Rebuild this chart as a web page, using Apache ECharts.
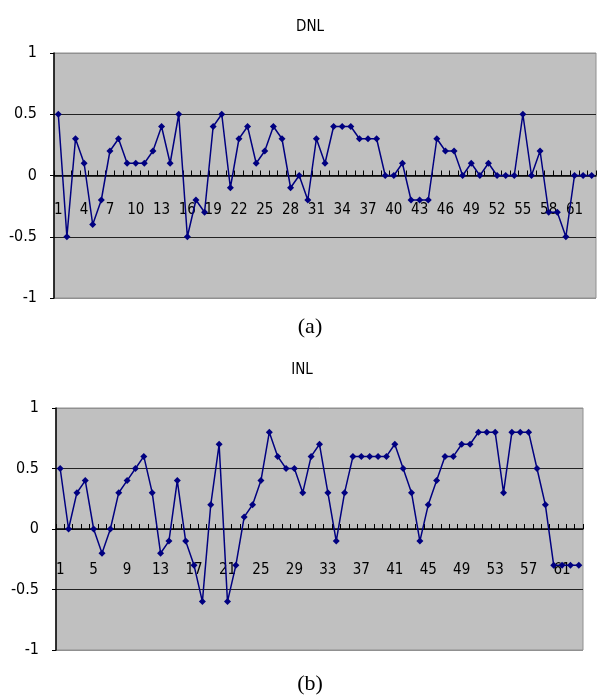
<!DOCTYPE html>
<html>
<head>
<meta charset="utf-8">
<script src="https://cdn.jsdelivr.net/npm/echarts@6/dist/echarts.min.js"></script>
<style>
html, body { margin: 0; padding: 0; background: #fff; }
#main { width: 597px; height: 698px; }
</style>
</head>
<body>
<div id="main"></div>
<script>
var categories = ['1','2','3','4','5','6','7','8','9','10','11','12','13','14','15','16','17','18','19','20',
    '21','22','23','24','25','26','27','28','29','30','31','32','33','34','35','36','37','38','39','40',
    '41','42','43','44','45','46','47','48','49','50','51','52','53','54','55','56','57','58','59','60',
    '61','62','63'];

// DNL, codes 1..63
var dnl = [0.5,-0.5,0.3,0.1,-0.4,-0.2,0.2,0.3,0.1,0.1,
    0.1,0.2,0.4,0.1,0.5,-0.5,-0.2,-0.3,0.4,0.5,
    -0.1,0.3,0.4,0.1,0.2,0.4,0.3,-0.1,0,-0.2,
    0.3,0.1,0.4,0.4,0.4,0.3,0.3,0.3,0,0,
    0.1,-0.2,-0.2,-0.2,0.3,0.2,0.2,0,0.1,0,
    0.1,0,0,0,0.5,0,0.2,-0.3,-0.3,-0.5,
    0,0,0];

// INL, codes 1..63
var inl = [0.5,0,0.3,0.4,0,-0.2,0,0.3,0.4,0.5,
    0.6,0.3,-0.2,-0.1,0.4,-0.1,-0.3,-0.6,0.2,0.7,
    -0.6,-0.3,0.1,0.2,0.4,0.8,0.6,0.5,0.5,0.3,
    0.6,0.7,0.3,-0.1,0.3,0.6,0.6,0.6,0.6,0.6,
    0.7,0.5,0.3,-0.1,0.2,0.4,0.6,0.6,0.7,0.7,
    0.8,0.8,0.8,0.3,0.8,0.8,0.8,0.5,0.2,-0.3,
    -0.3,-0.3,-0.3];

var yTicks = { min: -1, max: 1, interval: 0.5 };

var chart = echarts.init(document.getElementById('main'));

var labelFont = "'DejaVu Sans Condensed', 'Liberation Sans', sans-serif";

// labels sit just under the zero line (Excel style), so pull them up from the grid bottom
function xAxisFor(grid, every, margin) {
    return {
        type: 'category',
        gridIndex: grid,
        data: categories,
        boundaryGap: true,
        axisLine: { onZero: true, lineStyle: { color: '#000', width: 1.5 } },
        axisTick: { show: true, inside: true, length: 5, interval: 0, lineStyle: { color: '#000' } },
        axisLabel: { interval: every, margin: margin, color: '#000', fontSize: 15, fontFamily: labelFont },
        splitLine: { show: false }
    };
}

function yAxisFor(grid) {
    return {
        type: 'value',
        gridIndex: grid,
        min: yTicks.min,
        max: yTicks.max,
        interval: yTicks.interval,
        axisLine: { show: true, lineStyle: { color: '#000', width: 1.5 } },
        axisTick: { show: true, length: 4, lineStyle: { color: '#000' } },
        axisLabel: {
            margin: 17, color: '#000', fontSize: 16, fontFamily: labelFont,
            formatter: function (v) { return v === 0 ? '0' : String(v); }
        },
        splitLine: { show: true, lineStyle: { color: ['#909090', '#222', '#222', '#222', '#909090'], width: 1.2 } }
    };
}

function lineSeries(data, idx) {
    return {
        type: 'line',
        xAxisIndex: idx,
        yAxisIndex: idx,
        data: data,
        symbol: 'diamond',
        symbolSize: 7,
        showSymbol: true,
        showAllSymbol: true,
        lineStyle: { color: '#000080', width: 1.5 },
        itemStyle: { color: '#000080' },
        animation: false
    };
}

var option = {
    backgroundColor: '#fff',
    animation: false,
    title: [
        { text: 'DNL', left: 305, top: 15, textAlign: 'center',
          textStyle: { fontSize: 15, fontWeight: 'normal', color: '#000', fontFamily: labelFont } },
        { text: '(a)', left: 305, top: 311, textAlign: 'center',
          textStyle: { fontSize: 22, fontWeight: 'normal', color: '#000', fontFamily: "'Liberation Serif', serif" } },
        { text: 'INL', left: 297, top: 358, textAlign: 'center',
          textStyle: { fontSize: 15, fontWeight: 'normal', color: '#000', fontFamily: labelFont } },
        { text: '(b)', left: 305, top: 668, textAlign: 'center',
          textStyle: { fontSize: 22, fontWeight: 'normal', color: '#000', fontFamily: "'Liberation Serif', serif" } }
    ],
    grid: [
        { left: 54, right: 1, top: 53, bottom: 400, show: true, backgroundColor: '#c0c0c0', borderColor: '#909090', borderWidth: 1 },
        { left: 56, right: 14, top: 408, bottom: 48, show: true, backgroundColor: '#c0c0c0', borderColor: '#909090', borderWidth: 1 }
    ],
    xAxis: [xAxisFor(0, 2, -95), xAxisFor(1, 3, -87)],
    yAxis: [yAxisFor(0), yAxisFor(1)],
    series: [lineSeries(dnl, 0), lineSeries(inl, 1)]
};

chart.setOption(option);
</script>
</body>
</html>
